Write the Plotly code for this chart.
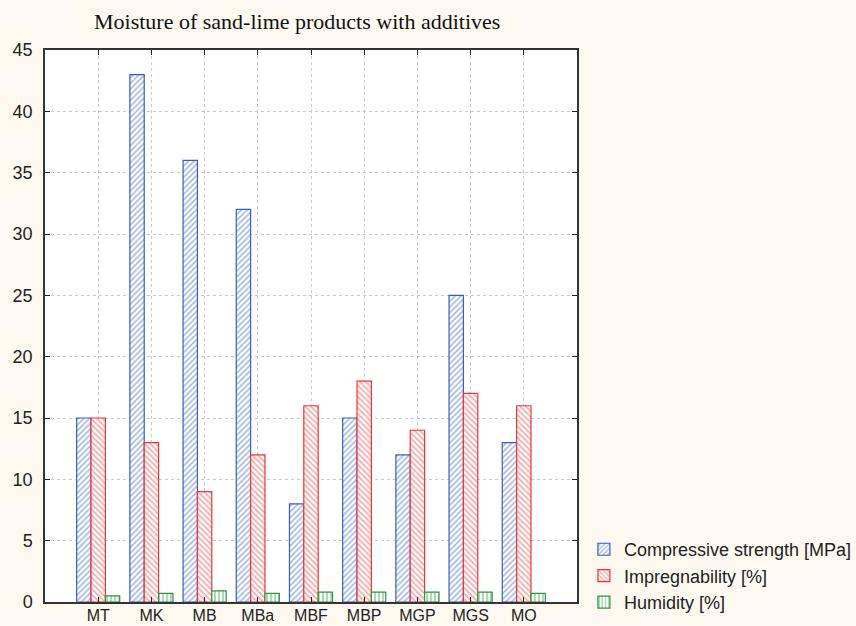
import plotly.graph_objects as go

# Sample groups along the x axis
categories = ["MT", "MK", "MB", "MBa", "MBF", "MBP", "MGP", "MGS", "MO"]

# Measured properties per sample
compressive_strength = [15, 43, 36, 32, 8, 15, 12, 25, 13]
impregnability = [15, 13, 9, 12, 16, 18, 14, 17, 16]
humidity = [0.5, 0.7, 0.9, 0.7, 0.8, 0.8, 0.8, 0.8, 0.7]

y_ticks = [0, 5, 10, 15, 20, 25, 30, 35, 40, 45]

series = [
    ("Compressive strength [MPa]", compressive_strength, "#3b5fb8", "#4a6fcc", "/"),
    ("Impregnability [%]", impregnability, "#ee3535", "#f24a4a", "\\"),
    ("Humidity [%]", humidity, "#2e9442", "#38a04c", "|"),
]

fig = go.Figure()
for name, values, edge, hatch, shape in series:
    fig.add_trace(go.Bar(
        x=categories,
        y=values,
        name=name,
        marker=dict(
            color="white",
            line=dict(color=edge, width=1.2),
            pattern=dict(shape=shape, fgcolor=hatch, bgcolor="white",
                         size=4, solidity=0.4, fillmode="overlay"),
        ),
    ))

sans = "Liberation Sans, Arial, sans-serif"

fig.update_layout(
    width=856,
    height=626,
    margin=dict(l=45, r=279, t=50, b=24, autoexpand=False),
    paper_bgcolor="#fdf9f1",
    plot_bgcolor="white",
    barmode="group",
    bargap=0.19,
    bargroupgap=0,
    showlegend=True,
    legend=dict(
        x=1.013, xanchor="left",
        y=0.047, yanchor="middle",
        font=dict(family=sans, size=18, color="#222222"),
        bgcolor="rgba(0,0,0,0)",
        tracegroupgap=0,
        itemwidth=30,
    ),
    annotations=[dict(
        text="Moisture of sand-lime products with additives",
        xref="paper", yref="paper",
        x=(297 - 45) / 532, y=1.0,
        xanchor="center", yanchor="bottom", yshift=14,
        showarrow=False,
        font=dict(family="Liberation Serif, Times New Roman, serif", size=22, color="#111111"),
    )],
)

fig.update_xaxes(
    type="category",
    range=[-1, 9],
    automargin=False,
    showline=True, linecolor="#333333", linewidth=1.5, mirror="ticks",
    ticks="inside", ticklen=5, tickcolor="#222222",
    showgrid=True, gridcolor="#c8c8c8", griddash="dot", gridwidth=1,
    tickfont=dict(family=sans, size=16, color="#222222"),
    ticklabelstandoff=-2,
)
fig.update_yaxes(
    range=[0, 45],
    tickvals=y_ticks,
    automargin=False,
    showline=True, linecolor="#333333", linewidth=1.5, mirror="ticks",
    ticks="inside", ticklen=5, tickcolor="#222222",
    showgrid=True, gridcolor="#c8c8c8", griddash="dot", gridwidth=1,
    zeroline=False,
    tickfont=dict(family=sans, size=18, color="#222222"),
    ticklabelstandoff=7,
)

fig.write_html("out.html")
